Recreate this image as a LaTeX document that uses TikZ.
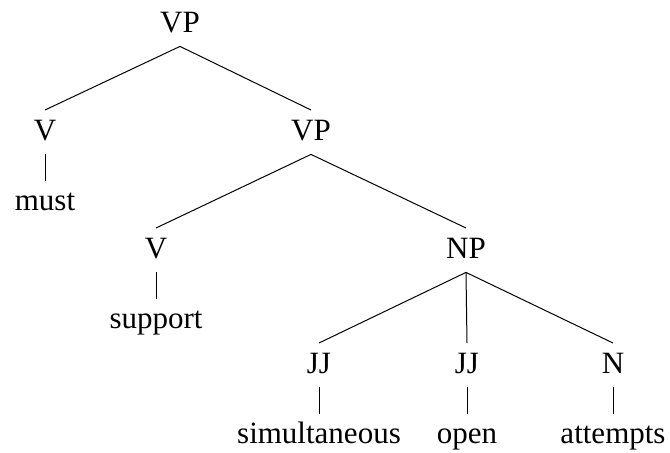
\documentclass[tikz,border=0pt]{standalone}
\usepackage{fontspec}
\setmainfont{Liberation Serif}
\usepackage{tikz}
\usetikzlibrary{positioning}

\begin{document}
\begin{tikzpicture}[
  x=1pt, y=1pt,
  cat/.style={
    font=\fontsize{15.5}{18}\selectfont,
    text height=10.8pt,
    text depth=3pt,
    inner sep=4pt,
  },
  word/.style={
    cat,
  },
  branch/.style={
    draw=black,
    line width=0.5pt,
  }]
  \useasboundingbox (0,0) rectangle (335,-226);
  % phrase level
  \node[cat] (VP) at (90,-12.1) {VP};
  \node[cat] (V) at (22.5,-66.1) {V};
  \node[cat] (VPb) at (155.5,-66.1) {VP};
  \node[cat] (Vb) at (78,-125.1) {V};
  \node[cat] (NP) at (233,-125.1) {NP};
  \node[cat] (JJa) at (159.5,-182.6) {JJ};
  \node[cat] (JJb) at (233.5,-182.6) {JJ};
  \node[cat] (N) at (306.5,-182.6) {N};
  % words
  \node[word, below=13.2pt of V] (must) {must};
  \node[word, below=13.2pt of Vb] (support) {support};
  \node[word, below=13.2pt of JJa] (simul) {simultaneous};
  \node[word, below=13.2pt of JJb] (open) {open};
  \node[word, below=13.2pt of N] (attempts) {attempts};
  % branches
  \draw[branch] (VP.south) -- (V.north);
  \draw[branch] (VP.south) -- (VPb.north);
  \draw[branch] (VPb.south) -- (Vb.north);
  \draw[branch] (VPb.south) -- (NP.north);
  \draw[branch] (NP.south) -- (JJa.north);
  \draw[branch] (NP.south) -- (JJb.north);
  \draw[branch] (NP.south) -- (N.north);
  \draw[branch] (V.south) -- (must.north);
  \draw[branch] (Vb.south) -- (support.north);
  \draw[branch] (JJa.south) -- (simul.north);
  \draw[branch] (JJb.south) -- (open.north);
  \draw[branch] (N.south) -- (attempts.north);
\end{tikzpicture}
\end{document}
